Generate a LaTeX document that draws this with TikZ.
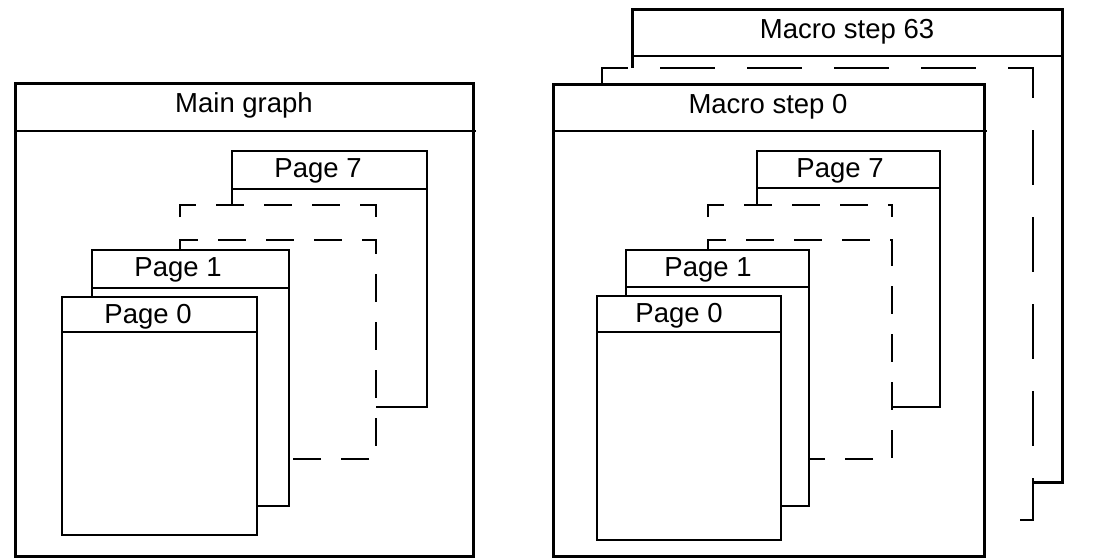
\documentclass[tikz,border=0pt]{standalone}
\usepackage{fontspec}
\setmainfont{Liberation Sans}

\begin{document}
\begin{tikzpicture}[
  x = 1pt, y = -1pt,
  frame/.style     = {draw, line width=3pt, fill=white},
  framerule/.style = {line width=2.6pt},
  sheet/.style     = {draw, line width=2.3pt, fill=white},
  headrule/.style  = {line width=1.5pt},
  ghost/.style     = {line width=2.6pt, dash pattern=on 28pt off 20pt},
  bigghost/.style  = {line width=2.6pt, dash pattern=on 55pt off 32pt},
  title/.style     = {anchor=base, inner sep=0pt,
                      font=\fontsize{27.5}{30}\selectfont},
]

\useasboundingbox (0,0) rectangle (1094,557);

% main graph
\draw[frame] (15,83) rectangle (473,556);
\draw[framerule] (15,131) -- (476,131);
\node[title] (main) at (244,112) {Main graph};

% macro steps, last one at the back
\draw[frame] (632,9) rectangle (1062,482);
\draw[framerule] (632,56) -- (1062,56);
\node[title] (step63) at (847,38) {Macro step 63};
\fill[white] (602,68) rectangle (1033,520);
\draw[bigghost] (602,97) -- (602,68) -- (1033,68) -- (1033,520) -- (1000,520);
\draw[frame] (553,84) rectangle (984,556);
\draw[framerule] (553,131) -- (987,131);
\node[title] (step0) at (768,113) {Macro step 0};

% last page of each stack
\foreach \n/\l/\t/\r/\b/\h/\c/\txt in {%
    pageLseven/232/151/427/407/189/318/{Page 7},
    pageRseven/757/151/940/407/188/840/{Page 7}%
  }{%
    \draw[sheet] (\l,\t) rectangle (\r,\b);
    \draw[headrule] (\l,\h) -- (\r,\h);
    \node[title] (\n) at (\c,\t+26) {\txt};
  }

% pages in between
\foreach \l/\r in {180/376, 708/892}{%
    \fill[white] (\l,205) rectangle (\r,240);
    \draw[ghost] (\l,217) -- (\l,205) -- (\r,205) -- (\r,217);
    \fill[white] (\l,240) rectangle (\r,459);
    \draw[ghost] (\l,250) -- (\l,240) -- (\r,240) -- (\r,459) -- (\l,459);
  }

% first pages
\foreach \n/\l/\t/\r/\b/\h/\c/\txt in {%
    pageLone/92/250/289/506/288/178/{Page 1},
    pageLzero/62/297/257/535/332/148/{Page 0},
    pageRone/626/250/809/506/287/708/{Page 1},
    pageRzero/597/296/781/540/332/679/{Page 0}%
  }{%
    \draw[sheet] (\l,\t) rectangle (\r,\b);
    \draw[headrule] (\l,\h) -- (\r,\h);
    \node[title] (\n) at (\c,\t+26) {\txt};
  }

\end{tikzpicture}
\end{document}
